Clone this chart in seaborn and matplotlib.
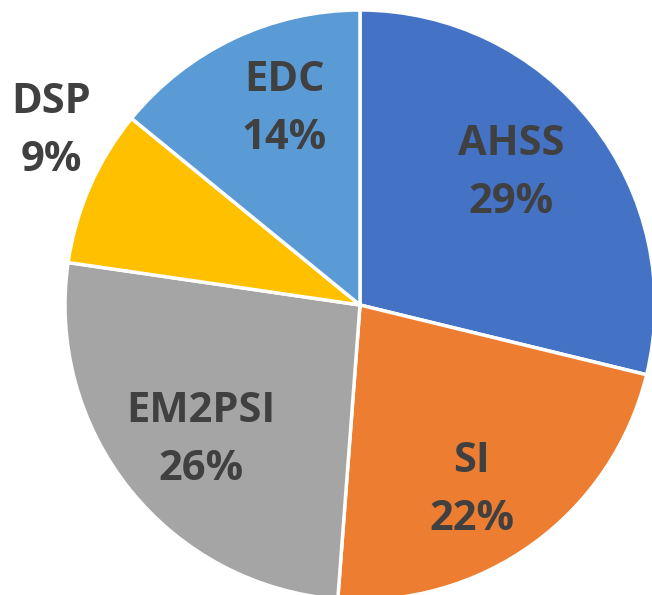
import numpy as np
import matplotlib
matplotlib.use('Agg')
import matplotlib.pyplot as plt
import seaborn as sns

# 数据（百分比，标签显示取整）
labels = ['AHSS', 'SI', 'EM2PSI', 'DSP', 'EDC']
shares = [28.8, 22.4, 26.1, 8.6, 14.1]
colors = ['#4472C4', '#ED7D31', '#A5A5A5', '#FFC000', '#5B9BD5']
# 标签位置：离圆心的距离 和 相对扇区中线的角度偏移（DSP 在外面）
label_dist = [0.687, 0.724, 0.70, 1.207, 0.722]
label_shift = [3.6, -4.4, 1.0, -6.0, -4.5]

sns.set_theme(style="white")
plt.rcParams['font.family'] = ['Open Sans', 'DejaVu Sans']

fig = plt.figure(figsize=(6.52, 5.95), dpi=100)
# 饼图圆心在 (360, 305) 像素处，半径约 295 像素
ax = fig.add_axes([65 / 652, -5 / 595, 590 / 652, 590 / 595])

wedges, _ = ax.pie(shares, colors=colors, startangle=90, counterclock=False,
                   radius=1.0, wedgeprops=dict(edgecolor='white', linewidth=2.5))

for w, lab, pct, d, s in zip(wedges, labels, shares, label_dist, label_shift):
    ang = np.deg2rad((w.theta1 + w.theta2) / 2 + s)
    # 文字框含下沿，稍往下挪一点让视觉中心对齐
    ax.text(d * np.cos(ang), d * np.sin(ang) - 0.012, f'{lab}\n{round(pct)}%',
            ha='center', va='center', fontsize=30, fontweight='bold',
            color='#404040', linespacing=1.55)

ax.set_xlim(-1, 1)
ax.set_ylim(-1, 1)
ax.set_aspect('equal')
ax.axis('off')

fig.savefig('out.png', dpi=100)
